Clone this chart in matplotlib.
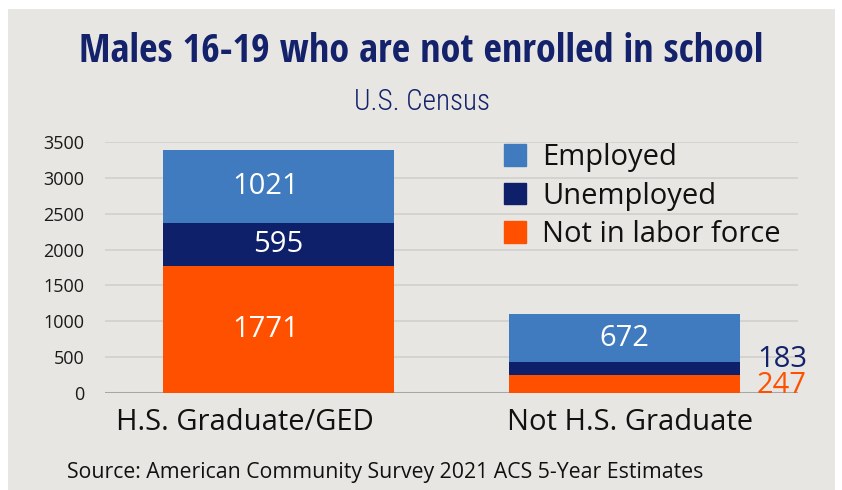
import matplotlib
matplotlib.use('Agg')
import numpy as np
import matplotlib.pyplot as plt
from matplotlib import font_manager
from matplotlib.patches import Patch, Rectangle

# data
categories = ['H.S. Graduate/GED', 'Not H.S. Graduate']
not_in_labor = [1771, 247]
unemployed = [595, 183]
employed = [1021, 672]
series_names = ['Employed', 'Unemployed', 'Not in labor force']

c_emp = '#3F7BBE'
c_unemp = '#0F206B'
c_nilf = '#FF5000'
navy = '#13226B'
bg = '#E8E6E2'

plt.rcParams['font.family'] = ['Open Sans', 'DejaVu Sans']


def pick_font(names, light):
    # first upright file of the given families, lightest or heaviest
    for name in names:
        cands = [f for f in font_manager.fontManager.ttflist
                 if f.name == name and f.style == 'normal']
        if light:
            cands = [f for f in cands if int(f.weight) <= 300]
        if cands:
            cands.sort(key=lambda f: int(f.weight))
            f = cands[0] if light else cands[-1]
            return font_manager.FontProperties(fname=f.fname)
    return font_manager.FontProperties(family='Open Sans', weight=300 if light else 700)


W, H = 842, 490
fig = plt.figure(figsize=(W / 100, H / 100), dpi=100, facecolor='white')
fig.patches.append(Rectangle((8 / W, 0), 827 / W, 481 / H, transform=fig.transFigure,
                             facecolor=bg, edgecolor='none', zorder=-10))

ax = fig.add_axes([105 / W, (H - 393) / H, 693 / W, 251 / H])
ax.patch.set_alpha(0)

x = np.arange(len(categories))
width = 0.667
bottom2 = np.array(not_in_labor) + np.array(unemployed)
b1 = ax.bar(x, not_in_labor, width, color=c_nilf, zorder=3)
b2 = ax.bar(x, unemployed, width, bottom=not_in_labor, color=c_unemp, zorder=3)
b3 = ax.bar(x, employed, width, bottom=bottom2, color=c_emp, zorder=3)

# labels inside bars (first bar all, second bar only employed)
for bars, vals, bots in [(b1, not_in_labor, np.zeros(2)), (b2, unemployed, not_in_labor),
                         (b3, employed, bottom2)]:
    for i, (v, b) in enumerate(zip(vals, bots)):
        if i == 1 and bars is not b3:
            continue
        dx = -9 if len(str(v)) > 3 else 0
        ax.annotate(str(v), (x[i], b + v / 2), xytext=(dx, 0), textcoords='offset points',
                    ha='center', va='center', color='white', fontsize=21, zorder=4)

# small segments of second bar labelled outside
ax.text(1.382, 0, str(not_in_labor[1]), color=c_nilf, fontsize=21, ha='left', va='baseline')
ax.text(1.382, 362, str(unemployed[1]), color=navy, fontsize=21, ha='left', va='baseline')

ax.set_xlim(-0.5, 1.5)
ax.set_ylim(0, 3500)
ax.set_yticks(np.arange(0, 3501, 500))
ax.yaxis.grid(True, color='#D3D1CE', lw=1.3, zorder=0)
ax.tick_params(axis='y', length=0, pad=15, labelsize=13, labelcolor='#1a1a1a')
ax.set_xticks([])
for s in ax.spines.values():
    s.set_visible(False)
ax.axhline(0, color='#A6A6A6', lw=2.2, zorder=2)

# category labels
tr = ax.get_xaxis_transform()
ax.text(-0.097, -0.147, categories[0], transform=tr, ha='center', va='baseline', fontsize=21, color='#111111')
ax.text(1.014, -0.147, categories[1], transform=tr, ha='center', va='baseline', fontsize=21, color='#111111')

handles = [Patch(color=c_emp), Patch(color=c_unemp), Patch(color=c_nilf)]
leg = fig.legend(handles, series_names, loc='upper left', bbox_to_anchor=(504 / W, 1 - 143 / H),
                 frameon=False, fontsize=21, handlelength=0.76, handleheight=0.76,
                 handletextpad=0.55, labelspacing=0.33, borderpad=0, borderaxespad=0)
for t in leg.get_texts():
    t.set_color('#111111')

title_fp = pick_font(['Open Sans Condensed'], light=False)
title_fp.set_size(29)
sub_fp = pick_font(['Open Sans Condensed', 'Open Sans Condensed Light', 'Roboto Condensed',
                    'IBM Plex Sans Condensed'], light=True)
sub_fp.set_size(21)
fig.text(421.5 / W, 1 - 62 / H, 'Males 16-19 who are not enrolled in school', ha='center', va='baseline',
         fontproperties=title_fp, color=navy)
fig.text(422 / W, 1 - 110 / H, 'U.S. Census', ha='center', va='baseline',
         fontproperties=sub_fp, color=navy)
fig.text(67 / W, 1 - 478 / H, 'Source: American Community Survey 2021 ACS 5-Year Estimates',
         ha='left', va='baseline', fontsize=15.3, color='#111111')

fig.savefig('out.png', dpi=100, facecolor='white')
